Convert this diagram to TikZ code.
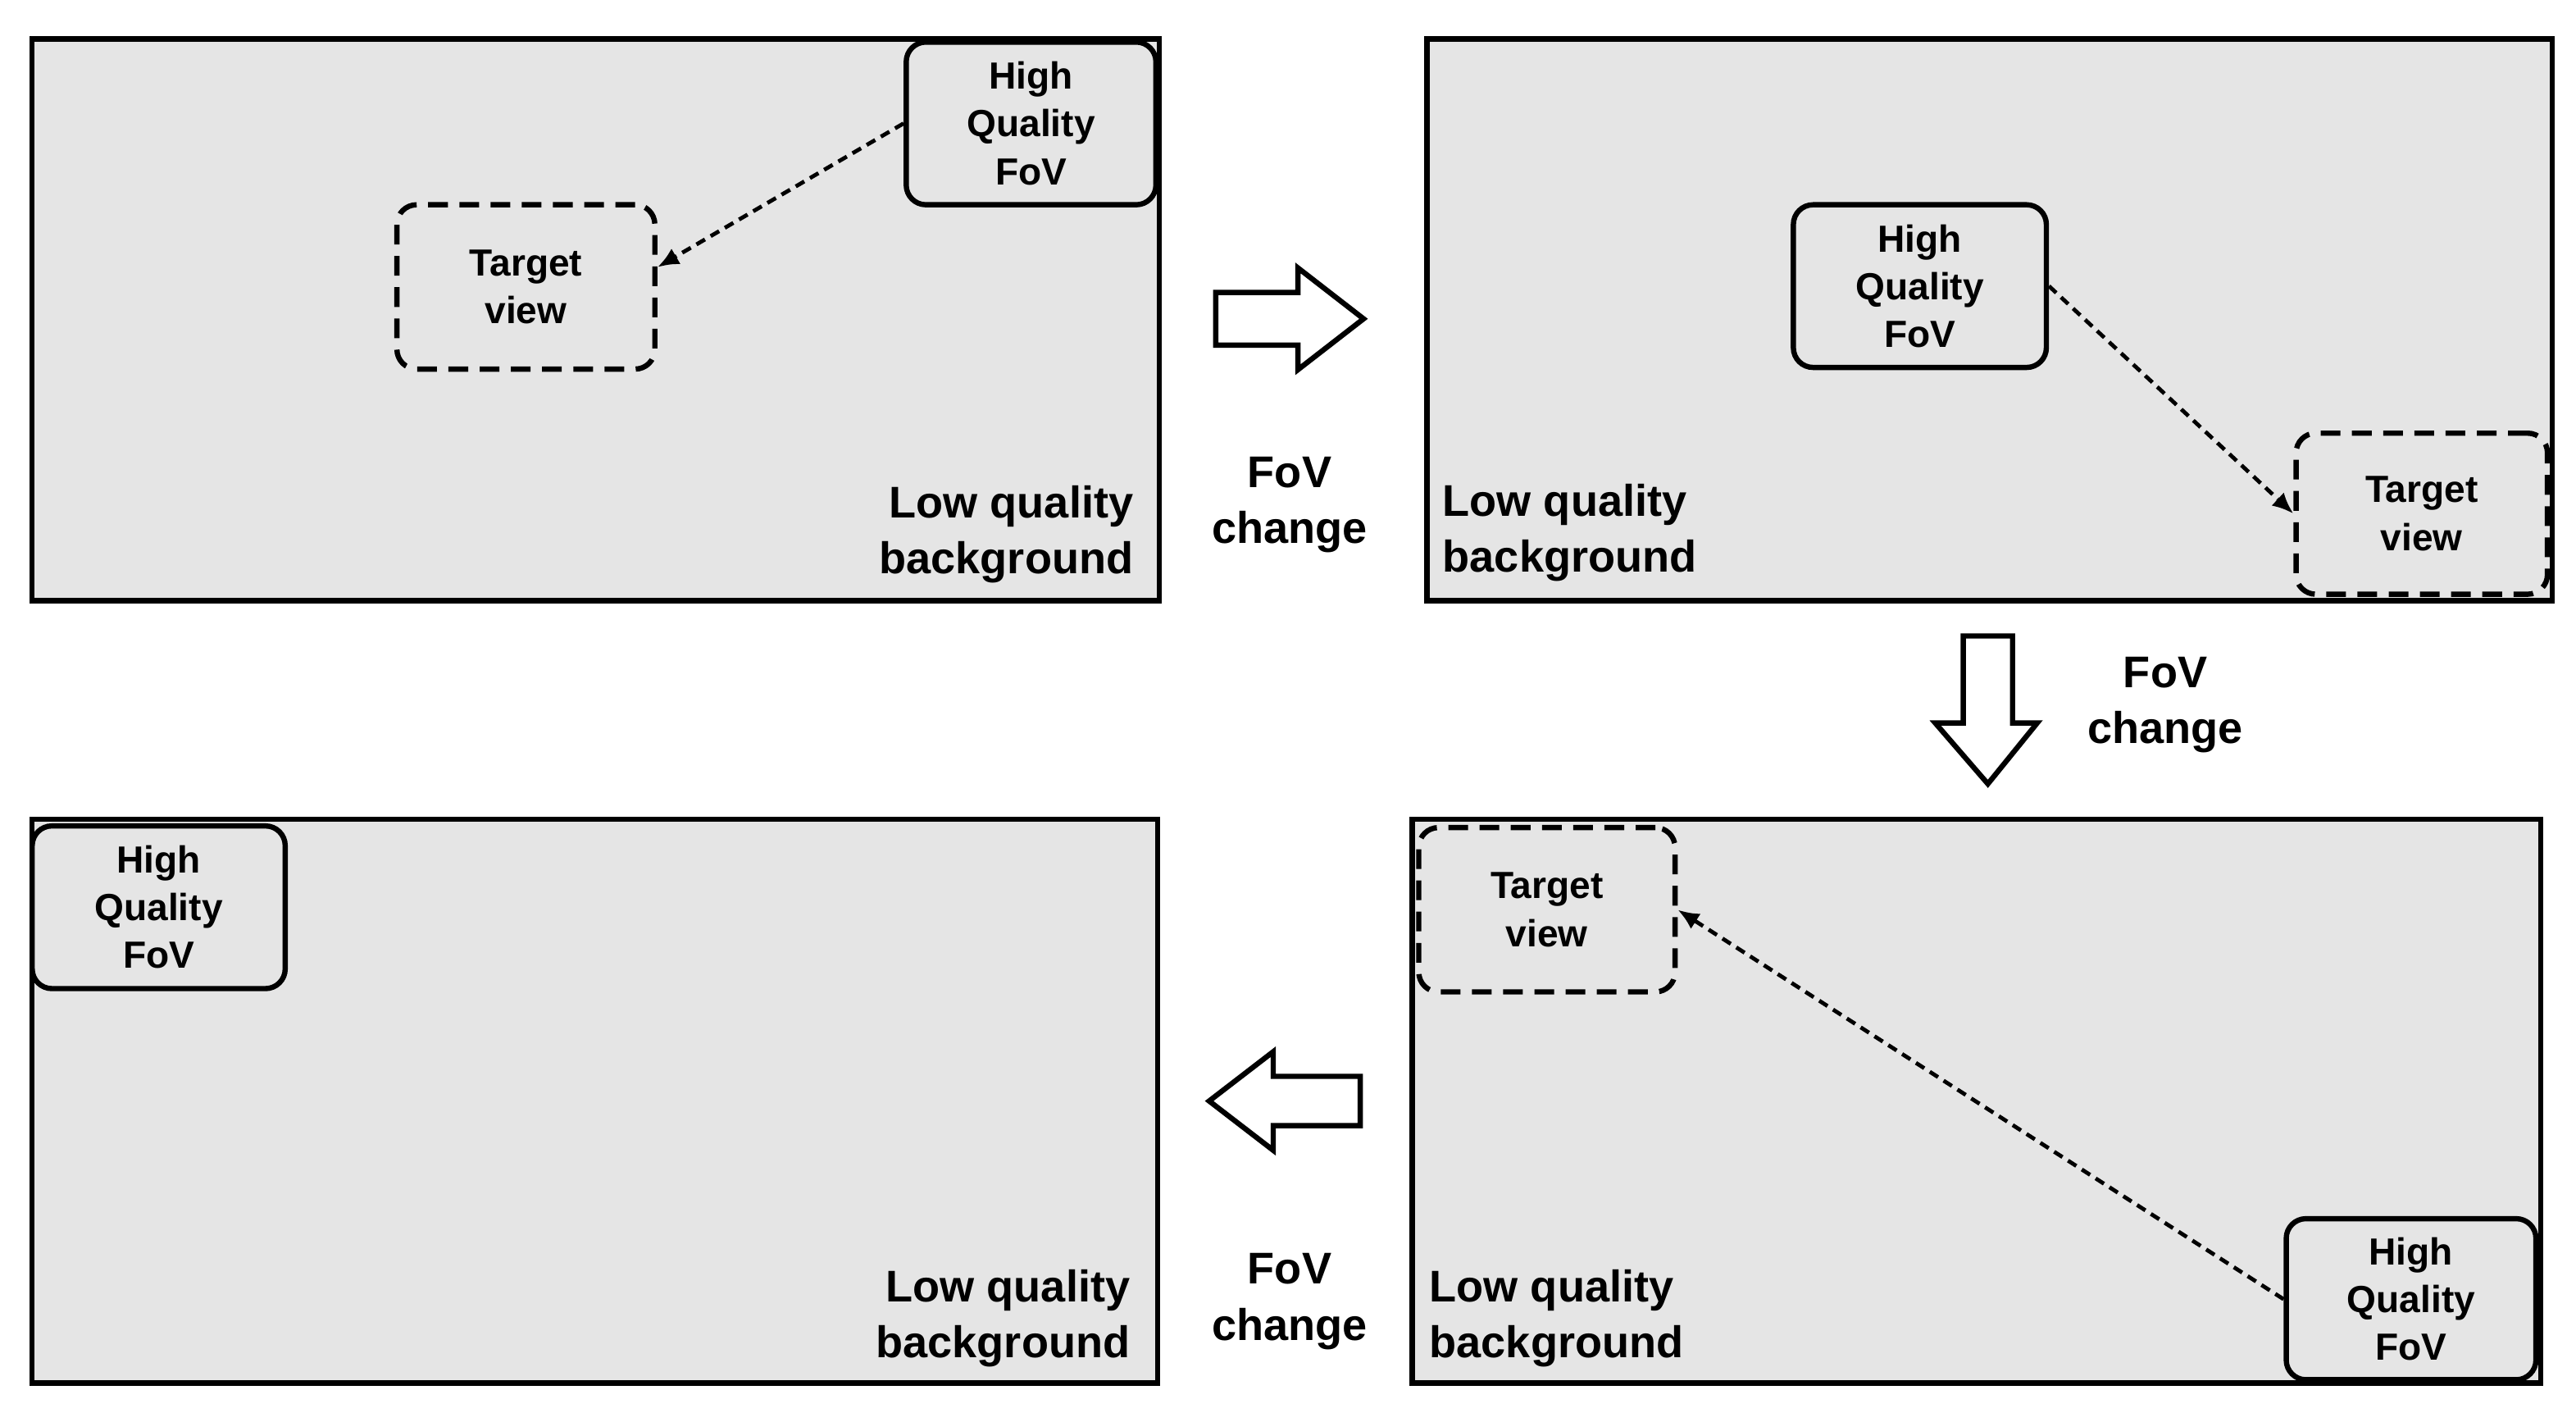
\documentclass[tikz,border=0pt]{standalone}
\usepackage{fontspec}
\setmainfont{Liberation Sans}
\usetikzlibrary{arrows.meta}
\begin{document}
\begin{tikzpicture}[x=1pt,y=-1pt,
 panel/.style={draw,line width=3.2pt,fill=black!10},
 hq/.style={draw,line width=3.2pt,rounded corners=12pt,fill=black!10,align=center,font=\bfseries\fontsize{23}{29}\selectfont,inner sep=0pt},
 tv/.style={draw,line width=3.2pt,dash pattern=on 12pt off 7pt,rounded corners=12pt,fill=black!10,align=center,font=\bfseries\fontsize{23}{29}\selectfont,inner sep=0pt},
 lab/.style={font=\bfseries\fontsize{27}{34}\selectfont,inner sep=0pt},
 conn/.style={line width=2.4pt,dash pattern=on 6pt off 4pt,-{Latex[length=13pt,width=11pt]}},
 blk/.style={draw,line width=3.2pt,fill=white,line join=miter}]
\useasboundingbox (0,0) rectangle (1568,865);
% panel 1
\node[panel,minimum width=686pt,minimum height=342pt,anchor=north west] (p1) at (18,22) {};
\node[hq,minimum width=152pt,minimum height=99pt,anchor=north west] (h1) at (550,24) {High\\Quality\\FoV};
\node[tv,minimum width=157pt,minimum height=100pt,anchor=north west] (t1) at (240,123) {Target\\view};
\draw[conn] (h1.west) -- ([yshift=12pt]t1.east);
\node[lab,align=right,anchor=south east] (l1) at (690,355) {Low quality\\background};
% panel 2
\node[panel,minimum width=685pt,minimum height=342pt,anchor=north west] (p2) at (867,22) {};
\node[hq,minimum width=154pt,minimum height=99pt,anchor=north west] (h2) at (1090,123) {High\\Quality\\FoV};
\node[tv,minimum width=153pt,minimum height=98pt,anchor=north west] (t2) at (1396,262) {Target\\view};
\draw[conn] (h2.east) -- (t2.west);
\node[lab,align=left,anchor=south west] (l2) at (878,354) {Low quality\\background};
% panel 3
\node[panel,minimum width=687pt,minimum height=343pt,anchor=north west] (p3) at (858,497) {};
\node[tv,minimum width=156pt,minimum height=100pt,anchor=north west] (t3) at (862,502) {Target\\view};
\node[hq,minimum width=152pt,minimum height=98pt,anchor=north west] (h3) at (1390,740) {High\\Quality\\FoV};
\draw[conn] (h3.west) -- (t3.east);
\node[lab,align=left,anchor=south west] (l3) at (870,832) {Low quality\\background};
% panel 4
\node[panel,minimum width=685pt,minimum height=343pt,anchor=north west] (p4) at (18,497) {};
\node[hq,minimum width=154pt,minimum height=99pt,anchor=north west] (h4) at (18,501) {High\\Quality\\FoV};
\node[lab,align=right,anchor=south east] (l4) at (688,832) {Low quality\\background};
% block arrows
\draw[blk] (740,178) -- (790,178) -- (790,163) -- (830,194) -- (790,225) -- (790,210) -- (740,210) -- cycle;
\draw[blk] (1195,387) -- (1225,387) -- (1225,440) -- (1240,440) -- (1210,477) -- (1178,440) -- (1195,440) -- cycle;
\draw[blk] (828,655) -- (775,655) -- (775,640) -- (736,670) -- (775,700) -- (775,685) -- (828,685) -- cycle;
\node[lab,align=center] (f1) at (785,307) {FoV\\change};
\node[lab,align=center] (f2) at (1318,429) {FoV\\change};
\node[lab,align=center] (f3) at (785,792) {FoV\\change};
\end{tikzpicture}
\end{document}
